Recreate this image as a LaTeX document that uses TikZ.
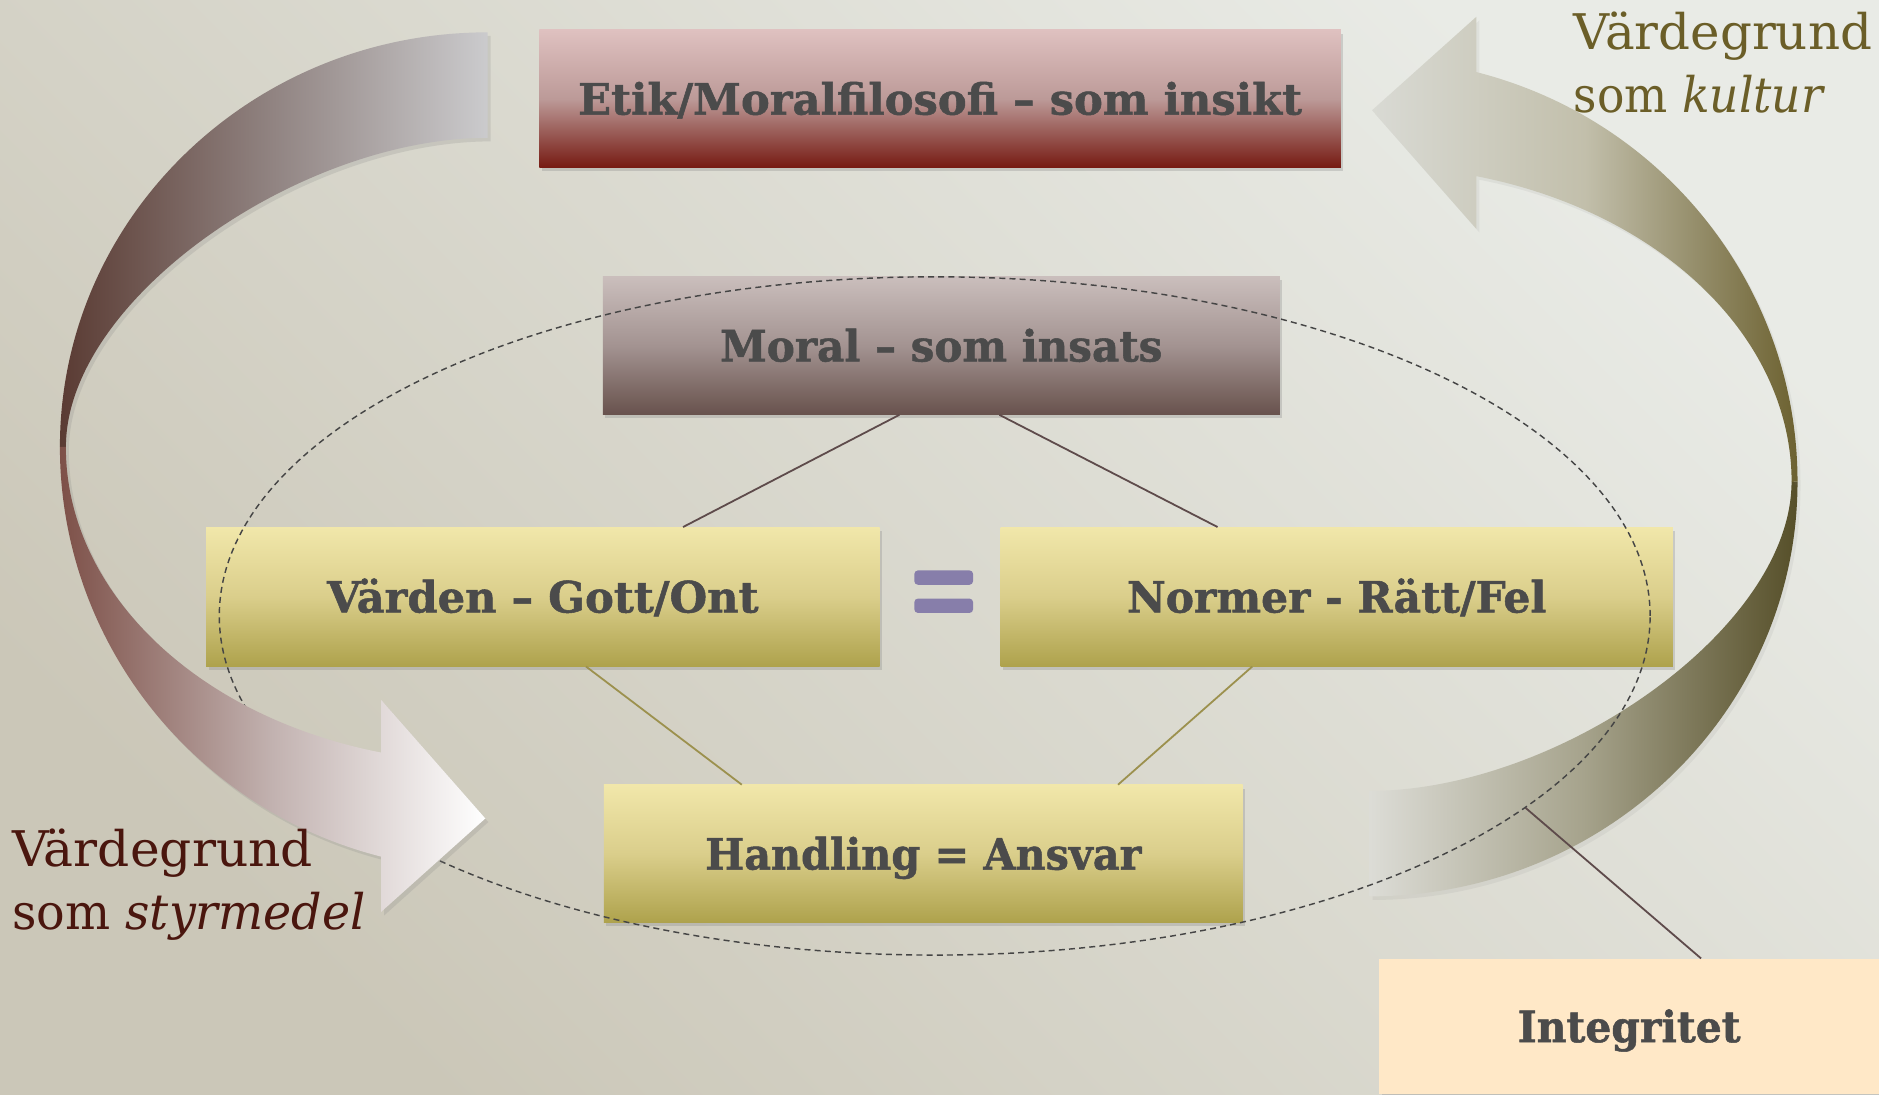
\documentclass[tikz,border=0pt]{standalone}
\usepackage{fontspec}
\setmainfont{DejaVu Serif}[BoldFeatures={FakeBold=1.2}]
\usepackage{graphicx}
\usetikzlibrary{shapes.geometric,shadows}
\definecolor{bgL}{HTML}{E9EBE6}
\definecolor{bgD}{HTML}{CBC7B8}
\definecolor{txt}{HTML}{4B4B4B}
\definecolor{etT}{HTML}{DFC1C0}
\definecolor{etM}{HTML}{BC9A98}
\definecolor{etB}{HTML}{761A12}
\definecolor{moT}{HTML}{CABEBC}
\definecolor{moM}{HTML}{A39391}
\definecolor{moB}{HTML}{68524D}
\definecolor{yeT}{HTML}{F1E7AA}
\definecolor{yeM}{HTML}{DACE8B}
\definecolor{yeB}{HTML}{AEA24C}
\definecolor{intc}{HTML}{FFE8C7}
\definecolor{eqc}{HTML}{877EAA}
\definecolor{dashc}{HTML}{454545}
\definecolor{lineBr}{HTML}{5E4B4B}
\definecolor{lineOl}{HTML}{9C914E}
\definecolor{labL}{HTML}{4A160E}
\definecolor{labR}{HTML}{6B5E28}
\definecolor{laU1}{HTML}{5A3B33}
\definecolor{laU2}{HTML}{918482}
\definecolor{laU3}{HTML}{CBCBCD}
\definecolor{laL1}{HTML}{7D5048}
\definecolor{laL2}{HTML}{C2B2B0}
\definecolor{laL3}{HTML}{FFFFFF}
\definecolor{raH1}{HTML}{D9DAD4}
\definecolor{raH2}{HTML}{C2BFAB}
\definecolor{raH3}{HTML}{6C6130}
\definecolor{raT1}{HTML}{DCDCD6}
\definecolor{raT2}{HTML}{A6A38C}
\definecolor{raT3}{HTML}{564F29}
\newcommand{\fitw}[2]{\resizebox{#1}{\height}{#2}}
\tikzset{
  boxbase/.style={rectangle, inner sep=0pt, text=txt,
    font=\fontsize{36}{40}\selectfont\bfseries, text height=26.2pt, text depth=0pt,
    drop shadow={shadow xshift=2pt, shadow yshift=-3pt, opacity=0.28}},
  etikbox/.style={boxbase, top color=etT, bottom color=etB, middle color=etM},
  moralbox/.style={boxbase, top color=moT, bottom color=moB, middle color=moM},
  yelbox/.style={boxbase, top color=yeT, bottom color=yeB, middle color=yeM},
  intbox/.style={boxbase, fill=intc},
  eqbar/.style={rectangle, rounded corners=3pt, fill=eqc, minimum width=49pt,
    minimum height=12pt, inner sep=0pt},
  lab/.style={inner sep=0pt, anchor=base west, font=\fontsize{41}{45}\selectfont},
  connbr/.style={draw=lineBr, line width=1.5pt},
  connol/.style={draw=lineOl, line width=1.5pt},
  arrshadow/.style={drop shadow={shadow xshift=2.5pt, shadow yshift=-3pt, opacity=#1}}
}
\begin{document}
\begin{tikzpicture}[x=1pt,y=1pt]
\useasboundingbox (0,0) rectangle (1568,913);
\shade[top color=bgL, bottom color=bgD, shading angle=-45] (0,0) rectangle (1568,913);

% right arrow (olive), tail band
\shade[left color=raT1, right color=raT3, middle color=raT2, arrshadow=0.10]
  (1143,165) arc[start angle=270, end angle=360, x radius=357, y radius=346]
  -- (1495,511) .. controls (1495,388) and (1300,253) .. (1143,253) -- cycle;
% right arrow, head band
\shade[left color=raH1, right color=raH3, middle color=raH2, arrshadow=0.10]
  (1500,511) arc[start angle=0, end angle=75.56, x radius=357, y radius=353]
  -- (1232,899) -- (1145,821) -- (1232,722) -- (1232,766)
  arc[start angle=75.36, end angle=0, x radius=352, y radius=263.6] -- cycle;

% boxes
\node[etikbox, minimum width=669pt, minimum height=115pt] (etik) at (784.5,830.5)
  {\fitw{604pt}{Etik/Moralfilosofi – som insikt}};
\node[moralbox, minimum width=565pt, minimum height=115pt] (moral) at (785.5,624.5)
  {\fitw{369pt}{Moral – som insats}};
\node[yelbox, minimum width=562pt, minimum height=116pt] (varden) at (453,415)
  {\fitw{360pt}{Värden – Gott/Ont}};
\node[yelbox, minimum width=561pt, minimum height=116pt] (normer) at (1115.5,415)
  {\fitw{350pt}{Normer - Rätt/Fel}};
\node[yelbox, minimum width=533pt, minimum height=115pt] (handling) at (770.5,200.5)
  {\fitw{364pt}{Handling = Ansvar}};

% equal sign
\node[eqbar] (eqa) at (787.5,431) {};
\node[eqbar] (eqb) at (787.5,407.5) {};

% dashed ellipse
\node[ellipse, draw=dashc, line width=1.2pt, dash pattern=on 5pt off 3.5pt,
  minimum width=1194pt, minimum height=566pt, inner sep=0pt] (ell) at (780,399) {};

% connectors
\draw[connbr] ([xshift=-35pt]moral.south) -- ([xshift=117pt]varden.north);
\draw[connbr] ([xshift=48.5pt]moral.south) -- ([xshift=-99.5pt]normer.north);
\draw[connol] ([xshift=36pt]varden.south) -- ([xshift=-151.5pt]handling.north);
\draw[connol] ([xshift=-70.5pt]normer.south) -- ([xshift=162.5pt]handling.north);

% left arrow (brown), upper band
\shade[left color=laU1, right color=laU3, middle color=laU2, arrshadow=0.2]
  (407,886) arc[start angle=90, end angle=180, x radius=357, y radius=346]
  -- (55,540) .. controls (55,663) and (250,798) .. (407,798) -- cycle;
% left arrow, lower band with head
\shade[left color=laL1, right color=laL3, middle color=laL2, arrshadow=0.2]
  (50,540) arc[start angle=180, end angle=255.56, x radius=357, y radius=353]
  -- (318,152) -- (405,230) -- (318,329) -- (318,285)
  arc[start angle=255.36, end angle=180, x radius=352, y radius=263.6] -- cycle;

% Integritet
\node[intbox, minimum width=417pt, minimum height=113pt] (integ) at (1359.5,56.5)
  {\fitw{186pt}{Integritet}};
\draw[connbr] ([xshift=60pt]integ.north) -- (ell.-18.1);

% labels
\node[lab, text=labL] (ll1) at (10,190) {\fitw{251pt}{Värdegrund}};
\node[lab, text=labL] (ll2) at (10,137) {\fitw{295pt}{som \textit{styrmedel}}};
\node[lab, text=labR] (rl1) at (1313,871.5) {\fitw{249pt}{Värdegrund}};
\node[lab, text=labR] (rl2) at (1313,819) {\fitw{210pt}{som \textit{kultur}}};
\end{tikzpicture}
\end{document}
